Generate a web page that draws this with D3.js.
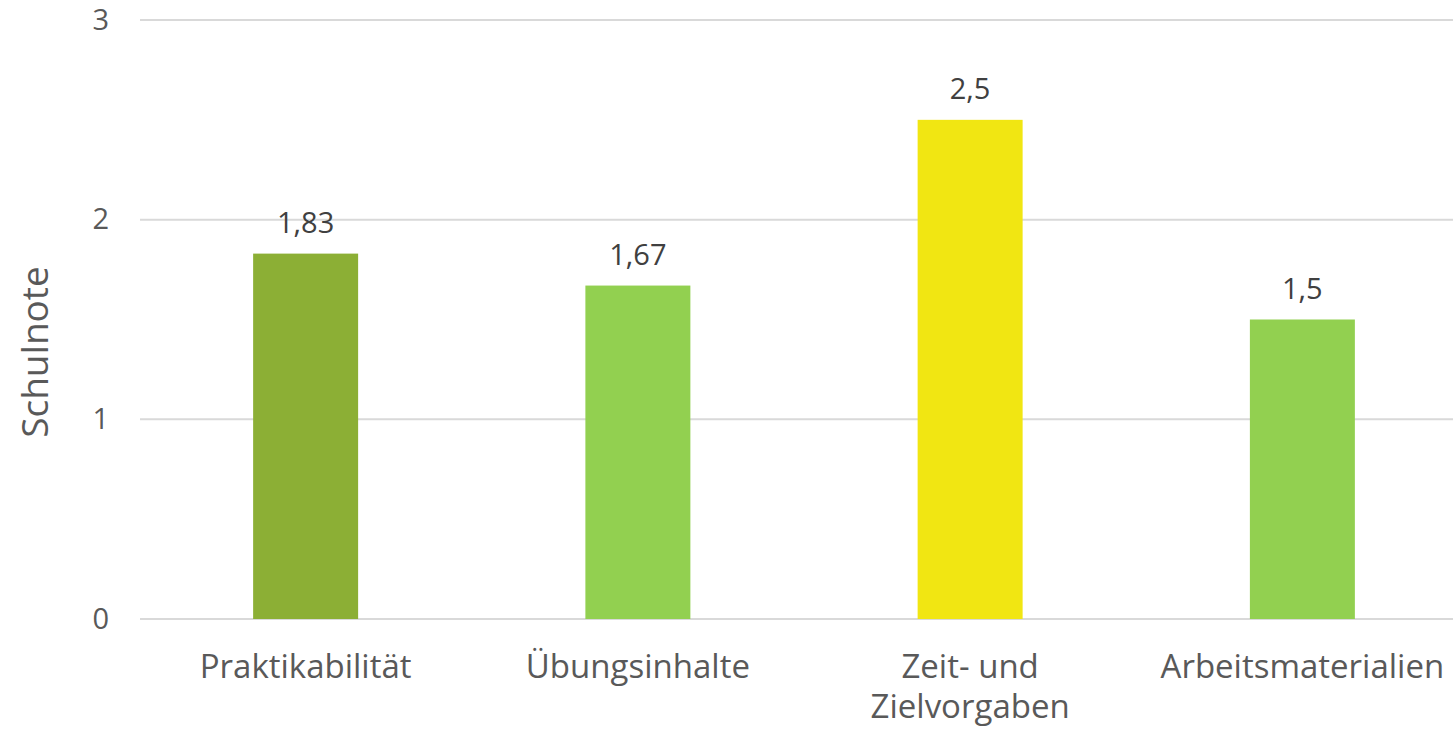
<!DOCTYPE html>
<html>
<head>
<meta charset="utf-8">
<script src="https://cdn.jsdelivr.net/npm/d3@7"></script>
<style>
html,body{margin:0;padding:0;background:#fff;overflow:hidden;}
svg{display:block;}
text{font-family:"Open Sans","Noto Sans",sans-serif;}
</style>
</head>
<body>
<svg id="chart" width="1453" height="729"></svg>
<script>
const categories = ["Praktikabilität", "Übungsinhalte", "Zeit- und Zielvorgaben", "Arbeitsmaterialien"];
const categoryLines = [["Praktikabilität"], ["Übungsinhalte"], ["Zeit- und", "Zielvorgaben"], ["Arbeitsmaterialien"]];
const values = [1.83, 1.67, 2.5, 1.5];
const valueLabels = ["1,83", "1,67", "2,5", "1,5"];
const barColors = ["#8CAF35", "#92D050", "#F1E612", "#92D050"];
const yTicks = [0, 1, 2, 3];
const yTitle = "Schulnote";

const svg = d3.select("#chart");
const x = d3.scaleBand().domain(categories).range([139.5, 1468.5]).paddingInner(0.684).paddingOuter(0.342);
const y = d3.scaleLinear().domain([0, 3]).range([619, 20]);

// gridlines
svg.append("g").selectAll("line").data(yTicks).join("line")
  .attr("x1", 140).attr("x2", 1453)
  .attr("y1", d => y(d)).attr("y2", d => y(d))
  .attr("stroke", "#d9d9d9").attr("stroke-width", 2);

// y axis tick labels
const yAxis = d3.axisLeft(y).tickValues(yTicks).tickSize(0).tickPadding(0).tickFormat(d3.format("d"));
const yg = svg.append("g").attr("transform", "translate(109,0)").call(yAxis);
yg.select(".domain").remove();
yg.selectAll("text").attr("font-size", 29).attr("fill", "#595959").attr("font-family", "Open Sans");

// bars
svg.append("g").selectAll("rect").data(values).join("rect")
  .attr("x", (d, i) => x(categories[i]))
  .attr("width", x.bandwidth())
  .attr("y", d => y(d))
  .attr("height", d => y(0) - y(d))
  .attr("fill", (d, i) => barColors[i]);

// value labels
svg.append("g").selectAll("text").data(values).join("text")
  .attr("x", (d, i) => x(categories[i]) + x.bandwidth() / 2)
  .attr("y", d => y(d) - 21)
  .attr("text-anchor", "middle")
  .attr("font-size", 29).attr("fill", "#404040")
  .text((d, i) => valueLabels[i]);

// category labels
const cg = svg.append("g").selectAll("text").data(categories).join("text")
  .attr("x", d => x(d) + x.bandwidth() / 2)
  .attr("y", 678)
  .attr("text-anchor", "middle")
  .attr("font-size", 33).attr("fill", "#595959");
cg.each(function(d, i) {
  d3.select(this).selectAll("tspan").data(categoryLines[i]).join("tspan")
    .attr("x", x(d) + x.bandwidth() / 2)
    .attr("dy", (t, j) => j === 0 ? 0 : 40)
    .text(t => t);
});

// y title
svg.append("text")
  .attr("transform", "translate(48,352) rotate(-90)")
  .attr("text-anchor", "middle")
  .attr("font-size", 37).attr("fill", "#595959")
  .text(yTitle);
</script>
</body>
</html>
